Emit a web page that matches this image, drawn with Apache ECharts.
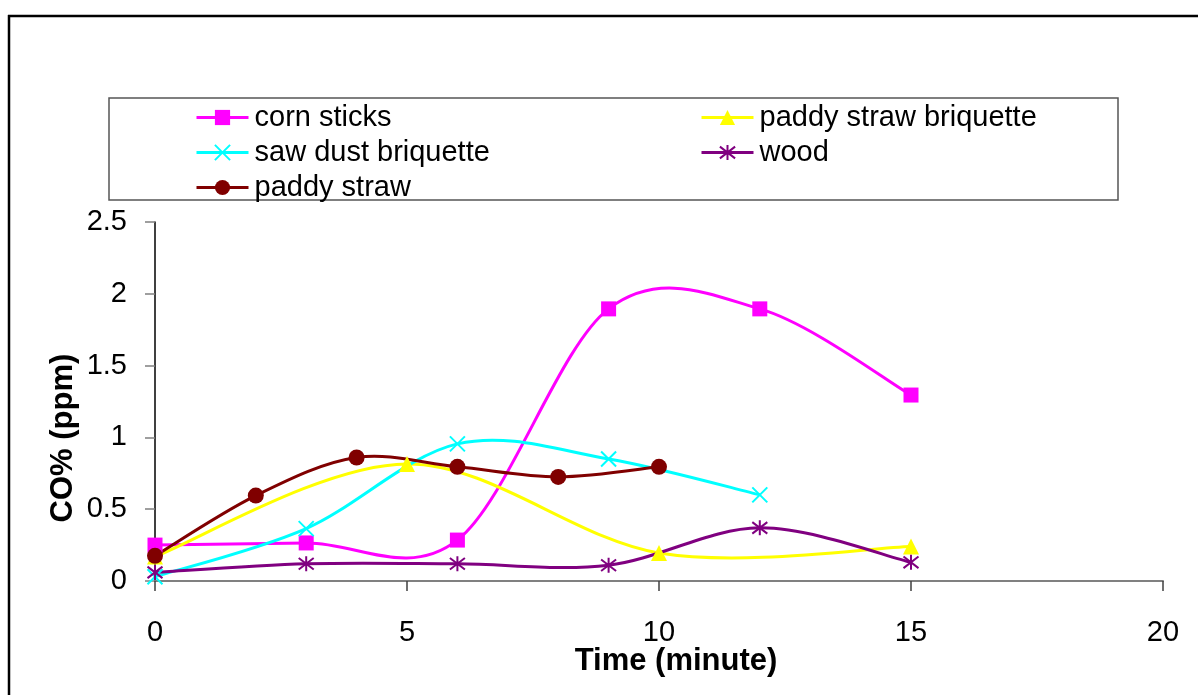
<!DOCTYPE html>
<html>
<head>
<meta charset="utf-8">
<script src="https://cdn.jsdelivr.net/npm/echarts@6/dist/echarts.min.js"></script>
<style>html,body{margin:0;padding:0;background:#fff}#c{width:1198px;height:695px}</style>
</head>
<body>
<div id="c"></div>
<script>
const seriesNames = ['corn sticks', 'paddy straw briquette', 'saw dust briquette', 'wood', 'paddy straw'];
const cornSticksX = [0, 3, 6, 9, 12, 15];
const cornSticksY = [0.25, 0.265, 0.285, 1.895, 1.895, 1.295];
const paddyBriqX = [0, 5, 10, 15];
const paddyBriqY = [0.17, 0.815, 0.195, 0.24];
const sawDustX = [0, 3, 6, 9, 12];
const sawDustY = [0.03, 0.365, 0.955, 0.85, 0.6];
const woodX = [0, 3, 6, 9, 12, 15];
const woodY = [0.06, 0.12, 0.12, 0.11, 0.37, 0.13];
const paddyStrawX = [0, 2, 4, 6, 8, 10];
const paddyStrawY = [0.175, 0.595, 0.86, 0.795, 0.725, 0.795];
const xTicks = [0, 5, 10, 15, 20];
const yTicks = [0, 0.5, 1, 1.5, 2, 2.5];

const pair = (xs, ys) => xs.map((x, i) => [x, ys[i]]);
const FONT = 'Liberation Sans, Arial, sans-serif';
const crossPath = 'path://M0,0L10,10M10,0L0,10';
const starPath = 'path://M0,0L10,10M10,0L0,10M5,-1.5L5,11.5';
const colors = ['#FF00FF', '#FFFF00', '#00FFFF', '#800080', '#800000'];
const LW = 3;

const chart = echarts.init(document.getElementById('c'), null, {renderer: 'canvas'});

// smooth curve (Excel-style Catmull-Rom) drawn through the data points via the axis scales
function curve(name, data, color) {
  return {
    name: name + ' curve', type: 'custom', coordinateSystem: 'cartesian2d', data,
    encode: {x: 0, y: 1}, z: 2, silent: true, animation: false,
    renderItem: (params, api) => {
      const i = params.dataIndex, n = data.length;
      if (i >= n - 1) return null;
      const P = k => api.coord(data[Math.max(0, Math.min(n - 1, k))]);
      const p0 = P(i - 1), p1 = P(i), p2 = P(i + 1), p3 = P(i + 2);
      return {
        type: 'bezierCurve',
        shape: {
          x1: p1[0], y1: p1[1], x2: p2[0], y2: p2[1],
          cpx1: p1[0] + (p2[0] - p0[0]) / 6, cpy1: p1[1] + (p2[1] - p0[1]) / 6,
          cpx2: p2[0] - (p3[0] - p1[0]) / 6, cpy2: p2[1] - (p3[1] - p1[1]) / 6
        },
        style: {stroke: color, lineWidth: LW, fill: null}
      };
    }
  };
}
function marks(name, data, color, symbol, size, stroke) {
  return {
    name, type: 'line', data, symbol, symbolSize: size, z: 3,
    lineStyle: {color, width: LW, opacity: 0},
    itemStyle: stroke ? {color: 'rgba(0,0,0,0)', borderColor: color, borderWidth: 2} : {color},
    emphasis: {disabled: true}, animation: false
  };
}
const legendItem = i => ({name: seriesNames[i], lineStyle: {color: colors[i], width: LW, opacity: 1}});
const legendBase = {
  orient: 'vertical', top: 98, itemGap: 6, itemWidth: 52, itemHeight: 19,
  textStyle: {fontSize: 29, color: '#000', fontFamily: FONT, padding: [0, 0, 0, 1]},
  selectedMode: false
};
const pts = [
  pair(cornSticksX, cornSticksY), pair(paddyBriqX, paddyBriqY), pair(sawDustX, sawDustY),
  pair(woodX, woodY), pair(paddyStrawX, paddyStrawY)
];
const symbols = [['rect', 15, false], ['triangle', 16, false], [crossPath, 15, true], [starPath, 15, true], ['circle', 16, false]];
const series = [];
pts.forEach((d, i) => series.push(curve(seriesNames[i], d, colors[i])));
pts.forEach((d, i) => series.push(marks(seriesNames[i], d, colors[i], symbols[i][0], symbols[i][1], symbols[i][2])));

chart.setOption({
  animation: false,
  backgroundColor: '#fff',
  textStyle: {fontFamily: FONT},
  grid: {left: 155, top: 222, right: 35, bottom: 114, containLabel: false},
  xAxis: {
    type: 'value', min: xTicks[0], max: xTicks[xTicks.length - 1], interval: 5,
    axisLine: {lineStyle: {color: '#808080', width: 2}},
    axisTick: {show: true, inside: false, length: 10, lineStyle: {color: '#404040', width: 1.5}},
    axisLabel: {fontSize: 29, color: '#000', margin: 37, fontFamily: FONT},
    splitLine: {show: false},
    name: 'Time (minute)', nameLocation: 'middle', nameGap: 65, nameMoveOverlap: false,
    nameTextStyle: {fontSize: 31, fontWeight: 'bold', color: '#000', fontFamily: FONT, padding: [0, 0, 0, 34]}
  },
  yAxis: {
    type: 'value', min: yTicks[0], max: yTicks[yTicks.length - 1], interval: 0.5,
    axisLine: {show: true, lineStyle: {color: '#000', width: 1.5}},
    axisTick: {show: true, inside: false, length: 10, lineStyle: {color: '#808080', width: 1.5}},
    axisLabel: {fontSize: 29, color: '#000', margin: 28, fontFamily: FONT},
    splitLine: {show: false}
  },
  legend: [
    Object.assign({}, legendBase, {left: 190, data: [legendItem(0), legendItem(2), legendItem(4)]}),
    Object.assign({}, legendBase, {left: 695, data: [legendItem(1), legendItem(3)]})
  ],
  graphic: [
    {type: 'line', shape: {x1: 8, y1: 16, x2: 1198, y2: 16}, style: {stroke: '#000', lineWidth: 2.5}, silent: true},
    {type: 'line', shape: {x1: 9, y1: 15, x2: 9, y2: 695}, style: {stroke: '#000', lineWidth: 2.5}, silent: true},
    {type: 'rect', shape: {x: 109, y: 98, width: 1009, height: 102}, style: {fill: 'rgba(0,0,0,0)', stroke: '#555', lineWidth: 1.5}, silent: true, z: -1},
    {type: 'text', x: 63, y: 438, rotation: Math.PI / 2,
     style: {text: 'CO% (ppm)', fontSize: 31, fontWeight: 'bold', fill: '#000', fontFamily: FONT, align: 'center', verticalAlign: 'middle'}, silent: true}
  ],
  series
});
</script>
</body>
</html>
